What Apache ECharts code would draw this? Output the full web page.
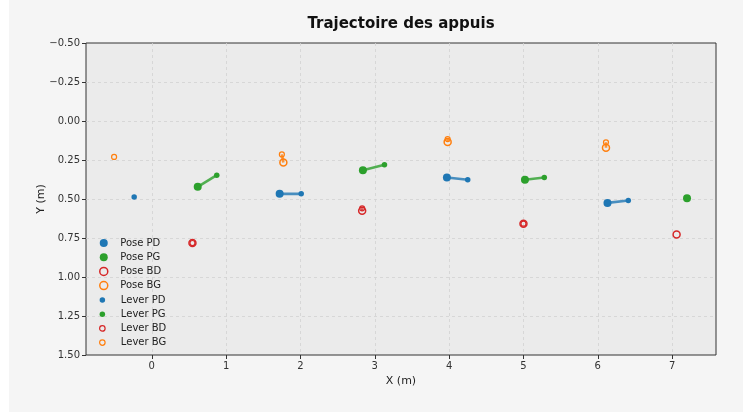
<!DOCTYPE html>
<html>
<head>
<meta charset="utf-8">
<script src="https://cdn.jsdelivr.net/npm/echarts@6/dist/echarts.min.js"></script>
<style>
  html, body { margin: 0; padding: 0; background: #ffffff; }
  #frame { position: absolute; left: 9px; top: 0; width: 734px; height: 412px; background: #f5f5f5; }
  #chart { position: absolute; left: 0; top: 0; width: 750px; height: 418px; }
</style>
</head>
<body>
<div id="frame"></div>
<div id="chart"></div>
<script>
// positions des appuis [x, y] en metres
const posePD = [[1.72, 0.467], [3.97, 0.362], [6.13, 0.525]]
const posePG = [[0.618, 0.422], [2.84, 0.315], [5.02, 0.377], [7.20, 0.495]]
const poseBD = [[0.547, 0.782], [2.83, 0.575], [5.00, 0.658], [7.06, 0.727]]
const poseBG = [[1.77, 0.266], [3.98, 0.135], [6.11, 0.172]]

const leverPD = [[-0.237, 0.487], [2.01, 0.467], [4.25, 0.377], [6.41, 0.510]]
const leverPG = [[0.874, 0.347], [3.13, 0.281], [5.28, 0.362]]
const leverBD = [[0.547, 0.782], [2.83, 0.560], [5.00, 0.658]]
const leverBG = [[-0.507, 0.230], [1.75, 0.214], [3.98, 0.116], [6.11, 0.137]]

// liaisons pose -> lever : [indice pose, indice lever]
const linksPD = [[0, 1], [1, 2], [2, 3]]
const linksPG = [[0, 0], [1, 1], [2, 2]]
const linksBD = [[0, 0], [1, 1], [2, 2]]
const linksBG = [[0, 1], [1, 2], [2, 3]]

const yTicks = [-0.5, -0.25, 0, 0.25, 0.5, 0.75, 1.0, 1.25, 1.5]

const feet = [
  { key: 'PD', color: '#1f77b4', filled: true, pose: posePD, lever: leverPD, links: linksPD },
  { key: 'PG', color: '#2ca02c', filled: true, pose: posePG, lever: leverPG, links: linksPG },
  { key: 'BD', color: '#d62728', filled: false, pose: poseBD, lever: leverBD, links: linksBD },
  { key: 'BG', color: '#ff7f0e', filled: false, pose: poseBG, lever: leverBG, links: linksBG }
]

const fmt = v => {
  const s = Math.abs(v).toFixed(2)
  return v < 0 ? '\u2212' + s : s
}

const markStyle = (f, big) => f.filled
  ? { color: f.color, opacity: 1 }
  : { color: 'rgba(0,0,0,0)', borderColor: f.color, borderWidth: big ? 1.5 : 1.2, opacity: 1 }

const series = []
feet.forEach(f => {
  f.links.forEach(([p, l]) => {
    series.push({
      type: 'line',
      silent: true,
      symbol: 'none',
      z: 1,
      lineStyle: { color: f.color, width: 2.6, opacity: 0.8 },
      data: [f.pose[p], f.lever[l]]
    })
  })
})
feet.forEach(f => {
  series.push({
    name: 'Pose ' + f.key,
    type: 'scatter',
    z: 3,
    symbol: 'circle',
    symbolSize: f.filled ? 8 : 7,
    itemStyle: markStyle(f, true),
    data: f.pose
  })
})
feet.forEach(f => {
  series.push({
    name: 'Lever ' + f.key,
    type: 'scatter',
    z: 4,
    symbol: 'circle',
    symbolSize: f.filled ? 5.5 : 5,
    itemStyle: markStyle(f, false),
    data: f.lever
  })
})

const legendItems = (prefix, big) => feet.map(f => ({
  name: prefix + ' ' + f.key,
  icon: 'circle',
  itemStyle: markStyle(f, big)
}))

const legendBase = {
  orient: 'vertical',
  left: 94,
  itemGap: 4.2,
  selectedMode: false
}
const legendText = pad => ({ fontFamily: 'DejaVu Sans', fontSize: 10, color: '#222', padding: [0, 0, 0, pad] })

const chart = echarts.init(document.getElementById('chart'), null, { renderer: 'canvas' })
chart.setOption({
  backgroundColor: 'transparent',
  animation: false,
  title: {
    text: 'Trajectoire des appuis',
    left: 396,
    top: 12,
    textAlign: 'center',
    textStyle: { fontFamily: 'DejaVu Sans', fontSize: 15, fontWeight: 'bold', color: '#111' }
  },
  legend: [
    Object.assign({}, legendBase, { top: 233, itemWidth: 9, itemHeight: 8, textStyle: legendText(7), data: legendItems('Pose', true) }),
    Object.assign({}, legendBase, { top: 290, itemWidth: 9, itemHeight: 5.5, textStyle: legendText(9), data: legendItems('Lever', false) })
  ],
  grid: {
    left: 86, right: 34, top: 43, bottom: 63,
    show: true,
    backgroundColor: '#ebebeb',
    borderColor: '#333',
    borderWidth: 1
  },
  xAxis: {
    type: 'value',
    min: -0.885,
    max: 7.59,
    splitNumber: 8,
    minInterval: 1,
    maxInterval: 1,
    name: 'X (m)',
    nameLocation: 'middle',
    nameGap: 21,
    nameTextStyle: { fontFamily: 'DejaVu Sans', fontSize: 11, color: '#222' },
    axisLine: { show: false, onZero: false },
    axisTick: { show: true, length: 4, lineStyle: { color: '#333' } },
    axisLabel: {
      showMinLabel: false, showMaxLabel: false,
      fontFamily: 'DejaVu Sans', fontSize: 10, color: '#333', margin: 6,
      formatter: v => (v < 0 ? '\u2212' : '') + Math.abs(v)
    },
    splitLine: { show: true, showMinLine: false, showMaxLine: false, lineStyle: { color: '#d2d2d2', width: 0.8, type: [3, 3] } }
  },
  yAxis: {
    type: 'value',
    inverse: true,
    min: yTicks[0],
    max: yTicks[yTicks.length - 1],
    interval: 0.25,
    name: 'Y (m)',
    nameLocation: 'middle',
    nameGap: 39,
    nameMoveOverlap: false,
    nameRotate: 90,
    nameTextStyle: { fontFamily: 'DejaVu Sans', fontSize: 11, color: '#222' },
    axisLine: { show: false, onZero: false },
    axisTick: { show: true, length: 4, lineStyle: { color: '#333' } },
    axisLabel: { fontFamily: 'DejaVu Sans', fontSize: 10, color: '#333', margin: 6, formatter: fmt },
    splitLine: { show: true, showMinLine: false, showMaxLine: false, lineStyle: { color: '#d2d2d2', width: 0.8, type: [3, 3] } }
  },
  series: series
})

window.addEventListener('resize', () => chart.resize())
</script>
</body>
</html>
